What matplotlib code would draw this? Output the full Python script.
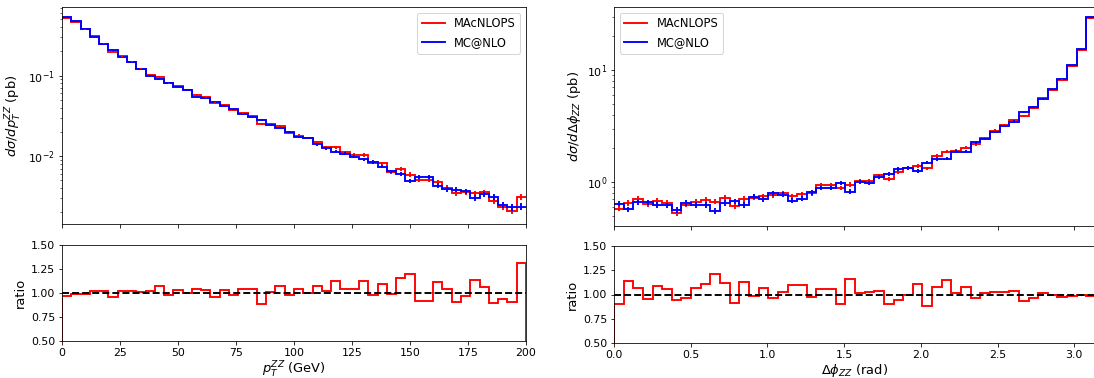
#!/usr/bin/env python3
import numpy as np
import matplotlib
matplotlib.use("Agg")
import matplotlib.pyplot as plt

# DATA (50 bins per panel)
# pT^ZZ: 0..200 GeV, 4 GeV bins
pt_edges = np.linspace(0, 200, 51)
pt_mcatnlo = [0.533, 0.47, 0.38, 0.304, 0.245, 0.206, 0.170, 0.146, 0.120, 0.100,
              0.090, 0.082, 0.0726, 0.066, 0.055, 0.052, 0.0477, 0.0417, 0.038, 0.0329,
              0.0304, 0.0284, 0.0246, 0.0223, 0.0199, 0.0173, 0.0167, 0.0140, 0.0125, 0.01135,
              0.0107, 0.0099, 0.00917, 0.00849, 0.00741, 0.00647, 0.00599, 0.00493, 0.00554, 0.00554,
              0.00431, 0.00391, 0.00383, 0.00369, 0.00304, 0.00335, 0.00310, 0.00251, 0.00232, 0.00237]
pt_ratio = [0.97, 0.985, 0.985, 1.02, 1.02, 0.96, 1.02, 1.02, 1.01, 1.02,
            1.075, 0.98, 1.035, 1.00, 1.045, 1.03, 0.96, 1.03, 0.975, 1.04,
            1.045, 0.885, 1.01, 1.07, 0.98, 1.04, 1.00, 1.075, 1.025, 1.13,
            1.045, 1.045, 1.125, 0.98, 1.095, 0.985, 1.155, 1.20, 0.915, 0.92,
            1.115, 1.04, 0.905, 0.965, 1.135, 1.06, 0.895, 0.935, 0.905, 1.31]
pt_relerr = [0.6, 0.6, 0.7, 0.8, 0.9, 1.0, 1.1, 1.2, 1.3, 1.4,
             1.5, 1.5, 1.6, 1.7, 1.9, 1.9, 2.0, 2.2, 2.3, 2.4,
             2.5, 2.6, 2.8, 3.0, 3.1, 3.4, 3.4, 3.7, 3.9, 4.1,
             4.3, 4.4, 4.6, 4.8, 5.1, 5.5, 5.7, 6.3, 5.9, 5.9,
             6.7, 7.0, 7.1, 7.3, 8.0, 7.6, 7.9, 8.8, 9.2, 9.1]  # percent

# Delta phi_ZZ: 0..pi, 50 bins
dphi_edges = np.linspace(0, np.pi, 51)
dphi_mcatnlo = [0.64, 0.57, 0.66, 0.66, 0.625, 0.617, 0.56, 0.65, 0.625, 0.625,
                0.553, 0.65, 0.67, 0.625, 0.738, 0.70, 0.79, 0.77, 0.68, 0.71,
                0.81, 0.88, 0.89, 0.985, 0.82, 1.0, 0.986, 1.10, 1.18, 1.30,
                1.33, 1.26, 1.49, 1.60, 1.62, 1.86, 1.86, 2.26, 2.42, 2.81,
                3.14, 3.46, 4.2, 4.69, 5.53, 6.70, 8.36, 11.0, 15.3, 29.5]
dphi_ratio = [0.90, 1.14, 1.07, 0.957, 1.086, 1.06, 0.94, 0.965, 1.07, 1.107,
              1.21, 1.118, 0.91, 1.13, 0.982, 1.07, 0.96, 1.03, 1.10, 1.096,
              0.975, 1.06, 1.054, 0.904, 1.157, 1.02, 1.025, 1.04, 0.904, 0.94,
              0.995, 1.107, 0.886, 1.075, 1.15, 1.018, 1.082, 0.96, 1.02, 1.022,
              1.022, 1.036, 0.93, 0.968, 1.014, 0.99, 0.97, 0.98, 0.99, 0.98]
dphi_relerr = [5.3, 5.6, 5.2, 5.2, 5.4, 5.4, 5.7, 5.3, 5.4, 5.4,
               5.7, 5.3, 5.2, 5.4, 4.9, 5.1, 4.8, 4.8, 5.2, 5.0,
               4.7, 4.5, 4.5, 4.3, 4.7, 4.2, 4.2, 4.0, 3.9, 3.7,
               3.7, 3.8, 3.5, 3.4, 3.3, 3.1, 3.1, 2.8, 2.7, 2.5,
               2.4, 2.3, 2.1, 2.0, 1.8, 1.6, 1.5, 1.3, 1.1, 0.8]  # percent

# picture was made at 72 dpi
DPI = 72
W, H = 1094.0, 378.0
LW = 1.9  # line width of the histograms

plt.rcParams["font.size"] = 11
plt.rcParams["axes.labelsize"] = 13
plt.rcParams["legend.fontsize"] = 11.5


def draw_panel(fig, rect_top, rect_bot, edges, mc, ratio, relerr,
               ylabel, xlabel, xlim, xticks, legend_loc):
    """Histogram comparison on top (log y), ratio MAcNLOPS/MC@NLO below."""
    mc = np.asarray(mc)
    ratio = np.asarray(ratio)
    mac = mc * ratio
    rel = np.asarray(relerr) / 100.0
    centers = 0.5 * (edges[1:] + edges[:-1])

    ax = fig.add_axes(rect_top)
    ax.stairs(mac, edges, baseline=None, color="red", lw=LW, label="MAcNLOPS")
    ax.errorbar(centers, mac, yerr=mac * rel, fmt="none", ecolor="red", elinewidth=LW)
    ax.stairs(mc, edges, baseline=None, color="blue", lw=LW, label="MC@NLO")
    ax.errorbar(centers, mc, yerr=mc * rel, fmt="none", ecolor="blue", elinewidth=LW)
    ax.set_yscale("log")
    ax.set_xlim(*xlim)
    ax.set_xticks(xticks)
    ax.tick_params(labelbottom=False)
    ax.set_ylabel(ylabel)
    ax.legend(loc=legend_loc)

    axr = fig.add_axes(rect_bot)
    axr.stairs(ratio, edges, baseline=0, color="red", lw=LW)
    axr.axhline(1.0, color="black", ls="--", lw=LW)
    axr.set_xlim(*xlim)
    axr.set_xticks(xticks)
    axr.set_ylim(0.5, 1.5)
    axr.set_yticks([0.5, 0.75, 1.0, 1.25, 1.5])
    axr.set_ylabel("ratio")
    axr.set_xlabel(xlabel, labelpad=2)
    return ax, axr


fig = plt.figure(figsize=(W / DPI, H / DPI), dpi=DPI)

# left: pT^ZZ
draw_panel(fig,
           [62 / W, 1 - 224 / H, 464 / W, 217 / H],
           [62 / W, 1 - 341 / H, 464 / W, 96 / H],
           pt_edges, pt_mcatnlo, pt_ratio, pt_relerr,
           r"$d\sigma/dp_T^{ZZ}$ (pb)", r"$p_T^{ZZ}$ (GeV)",
           (0, 200), np.arange(0, 201, 25), "upper right")

# right: Delta phi_ZZ
draw_panel(fig,
           [614 / W, 1 - 226 / H, 482 / W, 219 / H],
           [614 / W, 1 - 343 / H, 482 / W, 97 / H],
           dphi_edges, dphi_mcatnlo, dphi_ratio, dphi_relerr,
           r"$d\sigma/d\Delta\phi_{ZZ}$ (pb)", r"$\Delta\phi_{ZZ}$ (rad)",
           (0, np.pi), np.arange(0, 3.01, 0.5), "upper left")

fig.savefig("out.png", dpi=DPI)
plt.close(fig)
